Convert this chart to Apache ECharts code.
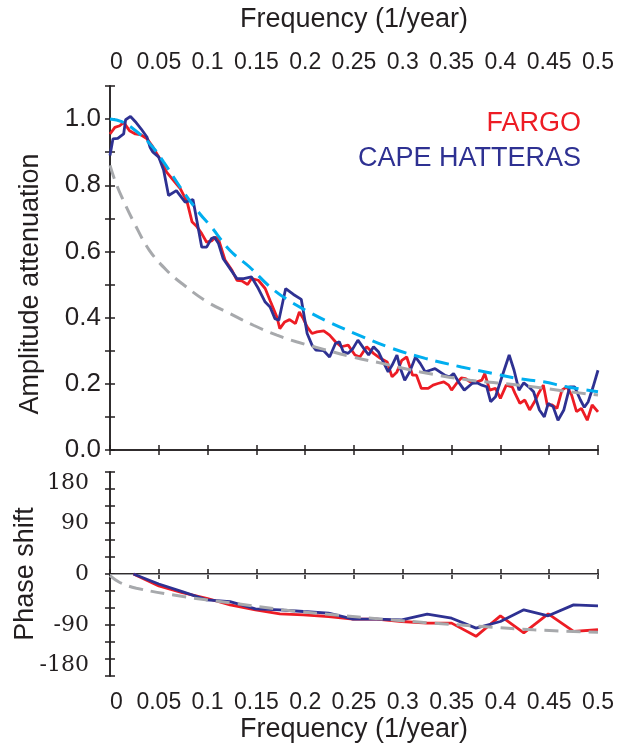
<!DOCTYPE html>
<html>
<head>
<meta charset="utf-8">
<script src="https://cdn.jsdelivr.net/npm/echarts@6/dist/echarts.min.js"></script>
<style>html,body{margin:0;padding:0;background:#fff;}#c{width:619px;height:744px;}</style>
</head>
<body>
<div id="c"></div>
<script>
// ---- Amplitude panel data (frequency in 1/year) ----
const fargoFreq = [0.000,0.005,0.010,0.014,0.020,0.026,0.032,0.038,0.043,0.049,0.053,0.058,0.065,0.072,0.079,0.084,0.089,0.094,0.099,0.104,0.108,0.111,0.118,0.125,0.130,0.135,0.141,0.145,0.152,0.159,0.164,0.171,0.174,0.179,0.184,0.190,0.194,0.198,0.202,0.207,0.212,0.219,0.225,0.231,0.237,0.244,0.251,0.256,0.263,0.270,0.277,0.284,0.289,0.294,0.299,0.304,0.310,0.314,0.319,0.326,0.331,0.336,0.342,0.347,0.350,0.355,0.360,0.364,0.369,0.376,0.381,0.384,0.389,0.395,0.400,0.406,0.412,0.415,0.420,0.425,0.430,0.436,0.439,0.444,0.448,0.453,0.458,0.463,0.468,0.473,0.478,0.483,0.489,0.494,0.500];
const fargoAmp = [0.955,0.975,0.980,0.990,0.965,0.955,0.952,0.940,0.920,0.890,0.870,0.840,0.815,0.790,0.750,0.690,0.675,0.654,0.628,0.632,0.643,0.639,0.573,0.543,0.513,0.511,0.500,0.518,0.513,0.488,0.452,0.402,0.367,0.387,0.394,0.382,0.417,0.397,0.372,0.352,0.357,0.360,0.347,0.327,0.312,0.317,0.287,0.281,0.312,0.292,0.277,0.266,0.221,0.236,0.271,0.281,0.226,0.226,0.186,0.186,0.196,0.201,0.206,0.196,0.181,0.201,0.218,0.216,0.206,0.206,0.211,0.231,0.181,0.186,0.156,0.196,0.191,0.171,0.141,0.151,0.121,0.151,0.171,0.196,0.136,0.136,0.126,0.181,0.191,0.166,0.116,0.126,0.090,0.136,0.115];

const capeFreq = [0.000,0.003,0.008,0.014,0.016,0.021,0.026,0.032,0.038,0.041,0.044,0.050,0.055,0.060,0.068,0.077,0.085,0.094,0.099,0.104,0.107,0.111,0.116,0.123,0.130,0.137,0.145,0.152,0.159,0.164,0.169,0.173,0.180,0.188,0.196,0.202,0.207,0.211,0.219,0.225,0.231,0.235,0.239,0.244,0.249,0.254,0.260,0.265,0.270,0.275,0.280,0.285,0.289,0.294,0.297,0.302,0.307,0.313,0.318,0.323,0.328,0.333,0.338,0.343,0.348,0.352,0.357,0.363,0.371,0.376,0.381,0.386,0.390,0.395,0.401,0.409,0.414,0.419,0.424,0.429,0.434,0.440,0.445,0.449,0.454,0.459,0.465,0.471,0.476,0.482,0.486,0.490,0.495,0.500];
const capeAmp = [0.890,0.940,0.942,0.955,0.998,1.008,0.992,0.970,0.945,0.915,0.900,0.885,0.845,0.769,0.784,0.749,0.757,0.613,0.613,0.639,0.643,0.625,0.578,0.548,0.518,0.518,0.523,0.488,0.447,0.432,0.397,0.392,0.488,0.470,0.455,0.352,0.317,0.302,0.300,0.281,0.322,0.327,0.297,0.292,0.307,0.332,0.307,0.287,0.312,0.297,0.266,0.236,0.256,0.287,0.251,0.211,0.236,0.281,0.261,0.236,0.241,0.246,0.236,0.226,0.221,0.231,0.206,0.181,0.201,0.203,0.196,0.191,0.146,0.161,0.216,0.287,0.241,0.181,0.203,0.191,0.176,0.121,0.100,0.141,0.131,0.090,0.121,0.191,0.191,0.151,0.129,0.146,0.191,0.241];

const grayAmpFreq = [0.000,0.005,0.012,0.025,0.040,0.058,0.075,0.100,0.123,0.147,0.171,0.191,0.219,0.246,0.280,0.318,0.369,0.420,0.471,0.500];
const grayAmp = [0.860,0.815,0.765,0.685,0.605,0.543,0.500,0.447,0.412,0.377,0.347,0.327,0.304,0.283,0.261,0.236,0.211,0.196,0.176,0.166];

const cyanFreq = [0.000,0.012,0.024,0.041,0.055,0.072,0.092,0.1025,0.123,0.143,0.164,0.184,0.205,0.224,0.251,0.289,0.323,0.360,0.393,0.418,0.444,0.468,0.500];
const cyanAmp = [1.000,0.992,0.970,0.925,0.870,0.794,0.714,0.679,0.603,0.553,0.493,0.450,0.415,0.387,0.352,0.307,0.277,0.251,0.231,0.216,0.206,0.191,0.176];

// ---- Phase panel data (degrees) ----
const phaseFreq = [0.024,0.050,0.074,0.099,0.123,0.149,0.174,0.198,0.224,0.249,0.273,0.299,0.325,0.350,0.375,0.400,0.424,0.449,0.475,0.500];
const fargoPhase = [0,-21,-33,-42.8,-54.5,-63.3,-70.3,-72.1,-75,-79.7,-79.7,-83.8,-86.7,-86.7,-110,-73.8,-104,-70.3,-101.4,-98.4];
const capePhase = [0,-17.6,-31,-45.7,-48.6,-61.5,-63.3,-66.2,-69.2,-79.7,-79.7,-80.8,-70.9,-78,-95.5,-83.8,-63.3,-73.8,-54.5,-56.2];
const grayPhaseFreq = [0.000,0.010,0.027,0.075,0.126,0.178,0.229,0.280,0.331,0.382,0.434,0.500];
const grayPhase = [-3,-15,-25,-39.8,-51.5,-63.3,-72,-79.7,-86.7,-92.6,-98.4,-103];

const freqTicks = ['0','0.05','0.1','0.15','0.2','0.25','0.3','0.35','0.4','0.45','0.5'];
const ampTicks = ['0.0','0.2','0.4','0.6','0.8','1.0'];
const phaseTicks = ['180','90','0','-90','-180'];

function pairs(xs, ys){ return xs.map((x,i)=>[x, ys[i]]); }

const SANS = "'Liberation Sans', Arial, Helvetica, sans-serif";
const SERIF = "DejaVu Serif";
const INK = '#231f20';
const axisLine = {show:true, lineStyle:{color:INK, width:1.5}};
const tick = {show:true, inside:true, length:5, lineStyle:{color:INK, width:1.5}};

function freqLabel(v){
  const s = (Math.round(v*100)/100).toString();
  return freqTicks.indexOf(s) >= 0 ? s : '';
}
function ampLabel(v){
  const s = v.toFixed(1);
  return ampTicks.indexOf(s) >= 0 ? s : '';
}
function phaseLabel(v){
  const s = String(Math.round(v));
  return phaseTicks.indexOf(s) >= 0 ? s : '';
}

const xBase = {type:'value', min:0, max:0.5, interval:0.05, axisLine, axisTick:tick, splitLine:{show:false}};

const chart = echarts.init(document.getElementById('c'), null, {renderer:'canvas'});
chart.setOption({
  animation:false,
  backgroundColor:'#ffffff',
  textStyle:{fontFamily:SANS, color:INK},
  grid:[
    {left:110, right:21, top:86, height:364, containLabel:false, outerBoundsMode:'none'},
    {left:110, right:21, top:472, height:204, containLabel:false, outerBoundsMode:'none'}
  ],
  legend:[
    {data:['FARGO'], right:33, top:110, padding:0, icon:'none', itemWidth:0, itemHeight:0, align:'right', selectedMode:false,
     textStyle:{color:'#ed1c24', fontSize:27, fontFamily:SANS}},
    {data:['CAPE HATTERAS'], right:33, top:145, padding:0, icon:'none', itemWidth:0, itemHeight:0, align:'right', selectedMode:false,
     textStyle:{color:'#2e3192', fontSize:27, fontFamily:SANS}}
  ],
  xAxis:[
    Object.assign({}, xBase, {gridIndex:0, position:'top',
      axisLabel:{show:true, fontSize:23, margin:12, color:INK, fontFamily:SANS, formatter:freqLabel, hideOverlap:false, alignMinLabel:'left'},
      name:'Frequency (1/year)', nameLocation:'middle', nameGap:53, nameMoveOverlap:false,
      nameTextStyle:{fontSize:27, color:INK, fontFamily:SANS}}),
    Object.assign({}, xBase, {gridIndex:0, position:'bottom', axisLabel:{show:false}}),
    Object.assign({}, xBase, {gridIndex:1, position:'top', axisLabel:{show:false}}),
    Object.assign({}, xBase, {gridIndex:1, position:'bottom',
      axisLabel:{show:true, fontSize:23, margin:15, color:INK, fontFamily:SANS, formatter:freqLabel, hideOverlap:false, alignMinLabel:'left'},
      name:'Frequency (1/year)', nameLocation:'middle', nameGap:40, nameMoveOverlap:false,
      nameTextStyle:{fontSize:27, color:INK, fontFamily:SANS}})
  ],
  yAxis:[
    {type:'value', gridIndex:0, position:'left', min:0, max:1.1, interval:0.1, axisLine, axisTick:tick, splitLine:{show:false},
     axisLabel:{show:true, fontSize:26, margin:9, color:INK, fontFamily:SANS, formatter:ampLabel},
     name:'Amplitude attenuation', nameLocation:'middle', nameGap:66, nameMoveOverlap:false,
     nameTextStyle:{fontSize:27, color:INK, fontFamily:SANS, padding:[0,32,0,0]}},
    {type:'value', gridIndex:0, position:'right', min:0, max:1.1, interval:0.1, axisLine, axisTick:tick, splitLine:{show:false}, axisLabel:{show:false}},
    {type:'value', gridIndex:1, position:'left', min:-180, max:180, interval:30, axisLine, axisTick:tick, splitLine:{show:false},
     axisLabel:{show:true, fontSize:22, margin:21, color:INK, fontFamily:SERIF, formatter:phaseLabel,
                verticalAlignMinLabel:'bottom', verticalAlignMaxLabel:'top'},
     name:'Phase shift', nameLocation:'middle', nameGap:71, nameMoveOverlap:false,
     nameTextStyle:{fontSize:27, color:INK, fontFamily:SANS}},
    {type:'value', gridIndex:1, position:'right', min:-180, max:180, interval:30, axisLine, axisTick:tick, splitLine:{show:false}, axisLabel:{show:false}}
  ],
  series:[
    {name:'FARGO', type:'line', xAxisIndex:1, yAxisIndex:0, data:pairs(fargoFreq, fargoAmp), showSymbol:false, symbol:'none',
     lineStyle:{color:'#ed1c24', width:2.8}, itemStyle:{color:'#ed1c24'}, z:2},
    {name:'CAPE HATTERAS', type:'line', xAxisIndex:1, yAxisIndex:0, data:pairs(capeFreq, capeAmp), showSymbol:false, symbol:'none',
     lineStyle:{color:'#2e3192', width:2.8}, itemStyle:{color:'#2e3192'}, z:3},
    {name:'gray model', type:'line', xAxisIndex:1, yAxisIndex:0, data:pairs(grayAmpFreq, grayAmp), showSymbol:false, symbol:'none', smooth:0.4,
     lineStyle:{color:'#a7a9ac', width:3, type:[14,8]}, z:4},
    {name:'cyan model', type:'line', xAxisIndex:1, yAxisIndex:0, data:pairs(cyanFreq, cyanAmp), showSymbol:false, symbol:'none', smooth:0.4,
     lineStyle:{color:'#00aeef', width:3, type:[14,8]}, z:5},

    {name:'FARGO', type:'line', xAxisIndex:3, yAxisIndex:2, data:pairs(phaseFreq, fargoPhase), showSymbol:false, symbol:'none',
     lineStyle:{color:'#ed1c24', width:2.8}, itemStyle:{color:'#ed1c24'}, z:2},
    {name:'CAPE HATTERAS', type:'line', xAxisIndex:3, yAxisIndex:2, data:pairs(phaseFreq, capePhase), showSymbol:false, symbol:'none',
     lineStyle:{color:'#2e3192', width:2.8}, itemStyle:{color:'#2e3192'}, z:3},
    {name:'gray phase model', type:'line', xAxisIndex:3, yAxisIndex:2, data:pairs(grayPhaseFreq, grayPhase), showSymbol:false, symbol:'none', smooth:0.4,
     lineStyle:{color:'#a7a9ac', width:3, type:[14,8]}, z:4,
     markLine:{silent:true, symbol:'none', label:{show:false}, lineStyle:{color:'#9d9fa2', width:1, type:'solid'}, data:[{yAxis:0}], z:1}}
  ]
});
</script>
</body>
</html>
